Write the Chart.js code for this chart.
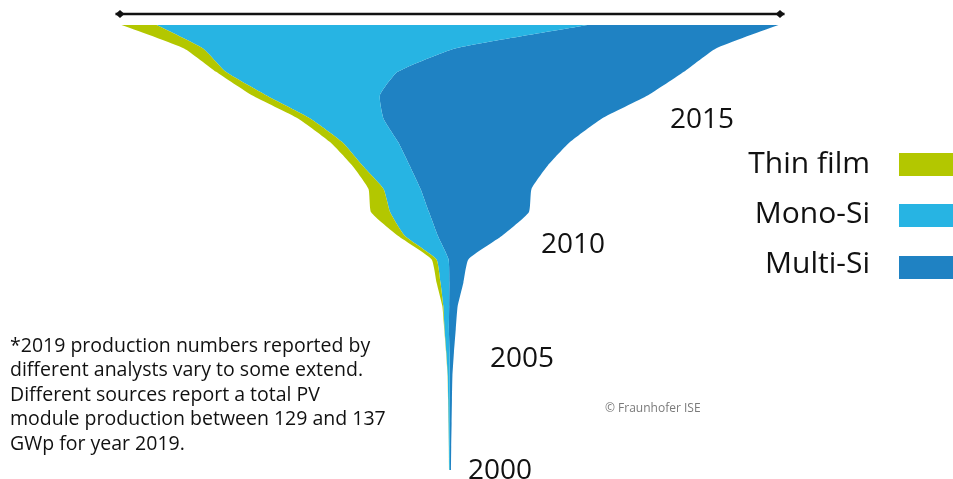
<!DOCTYPE html>
<html>
<head>
<meta charset="utf-8">
<script src="https://cdn.jsdelivr.net/npm/chart.js@4.4.1/dist/chart.umd.min.js"></script>
<style>
  html, body { margin: 0; padding: 0; background: #ffffff; }
  #wrap { position: relative; width: 953px; height: 479px; overflow: hidden; font-family: "Open Sans", "Noto Sans", sans-serif; color: #111; }
  #c { position: absolute; left: 0; top: 0; }
  .yr { position: absolute; font-size: 28px; line-height: 28px; color: #111; white-space: nowrap; }
  .lg { position: absolute; font-size: 30px; line-height: 30px; color: #111; white-space: nowrap; text-align: right; width: 200px; left: 670px; }
  .box { position: absolute; left: 899px; width: 60px; height: 23px; }
  #note { position: absolute; left: 10px; top: 333px; font-size: 19.5px; line-height: 24.4px; color: #111; white-space: nowrap; }
  #copy { position: absolute; left: 605px; top: 400px; font-size: 12px; line-height: 16px; color: #7a7a7a; white-space: nowrap; }
</style>
</head>
<body>
<div id="wrap">
  <canvas id="c" width="953" height="479"></canvas>
  <div class="yr" style="left:670px; top:103px;">2015</div>
  <div class="yr" style="left:541px; top:228px;">2010</div>
  <div class="yr" style="left:490px; top:342px;">2005</div>
  <div class="yr" style="left:468px; top:454px;">2000</div>

  <div class="lg" style="top:147px;">Thin film</div>
  <div class="lg" style="top:197px;">Mono-Si</div>
  <div class="lg" style="top:247px;">Multi-Si</div>
  <div class="box" id="b0" style="top:153px;"></div>
  <div class="box" id="b1" style="top:204px;"></div>
  <div class="box" id="b2" style="top:256px;"></div>

  <div id="note">*2019 production numbers reported by<br>different analysts vary to some extend.<br>Different sources report a total PV<br>module production between 129 and 137<br>GWp for year 2019.</div>
  <div id="copy">© Fraunhofer ISE</div>
</div>
<script>
// ---- data (GWp per year) ----
const years = [2000,2001,2002,2003,2004,2005,2006,2007,2008,2009,2010,2011,2012,2013,2014,2015,2016,2017,2018,2019];
const thinFilm = [0.02,0.02,0.03,0.03,0.04,0.05,0.06,0.2,0.8,1.0,1.4,3.9,3.1,2.1,2.5,2.5,2.9,2.0,3.9,7.2];
const monoSi   = [0.16,0.2,0.27,0.33,0.4,0.65,0.9,1.2,1.8,2.5,6.8,8.0,7.6,9.7,11.5,15.0,23.4,35.3,51.8,88.6];
const multiSi  = [0.22,0.28,0.36,0.44,0.55,0.9,1.4,1.75,2.9,4.1,13.2,20.5,22.8,28.4,35.3,44.8,55.1,58.8,53.6,39.2];
const seriesNames = ['Thin film', 'Mono-Si', 'Multi-Si'];
const colors = ['#b3c700', '#27b4e3', '#1f82c3'];

// ---- boundaries of the centred (funnel) stack ----
const totals = years.map((y, i) => thinFilm[i] + monoSi[i] + multiSi[i]);
const edge0 = totals.map(t => -t / 2);
const edge1 = edge0.map((v, i) => v + thinFilm[i]);
const edge2 = edge1.map((v, i) => v + monoSi[i]);
const edge3 = edge2.map((v, i) => v + multiSi[i]);

document.getElementById('b0').style.background = colors[0];
document.getElementById('b1').style.background = colors[1];
document.getElementById('b2').style.background = colors[2];

const arrowPlugin = {
  id: 'arrowLine',
  afterDraw(chart) {
    const xs = chart.scales.x;
    const t = totals[totals.length - 1];
    const xl = xs.getPixelForValue(-t / 2) - 6;
    const xr = xs.getPixelForValue(t / 2) + 6;
    const y = chart.chartArea.top - 11;
    const ctx = chart.ctx;
    ctx.save();
    ctx.strokeStyle = '#111';
    ctx.fillStyle = '#111';
    ctx.lineWidth = 2.6;
    ctx.beginPath();
    ctx.moveTo(xl, y);
    ctx.lineTo(xr, y);
    ctx.stroke();
    [[xl, 1], [xr, -1]].forEach(([x, d]) => {
      ctx.beginPath();
      ctx.moveTo(x, y);
      ctx.lineTo(x + 4.5 * d, y - 4);
      ctx.lineTo(x + 9 * d, y);
      ctx.lineTo(x + 4.5 * d, y + 4);
      ctx.closePath();
      ctx.fill();
    });
    ctx.restore();
  }
};

const common = { pointRadius: 0, pointHoverRadius: 0, borderWidth: 0, borderColor: 'rgba(0,0,0,0)', tension: 0.15 };
const half = 450 / (657 / 135);

new Chart(document.getElementById('c'), {
  type: 'line',
  data: {
    labels: years.map(String),
    datasets: [
      Object.assign({ label: 'edge', data: edge0, fill: false }, common),
      Object.assign({ label: seriesNames[0], data: edge1, fill: '-1', backgroundColor: colors[0] }, common),
      Object.assign({ label: seriesNames[1], data: edge2, fill: '-1', backgroundColor: colors[1] }, common),
      Object.assign({ label: seriesNames[2], data: edge3, fill: '-1', backgroundColor: colors[2] }, common)
    ]
  },
  options: {
    indexAxis: 'y',
    responsive: false,
    animation: false,
    layout: { padding: { left: 0, right: 53, top: 25, bottom: 9 } },
    scales: {
      x: { type: 'linear', min: -half, max: half, display: false },
      y: { type: 'category', reverse: true, offset: false, display: false }
    },
    plugins: { legend: { display: false }, tooltip: { enabled: false } }
  },
  plugins: [arrowPlugin]
});
</script>
</body>
</html>
